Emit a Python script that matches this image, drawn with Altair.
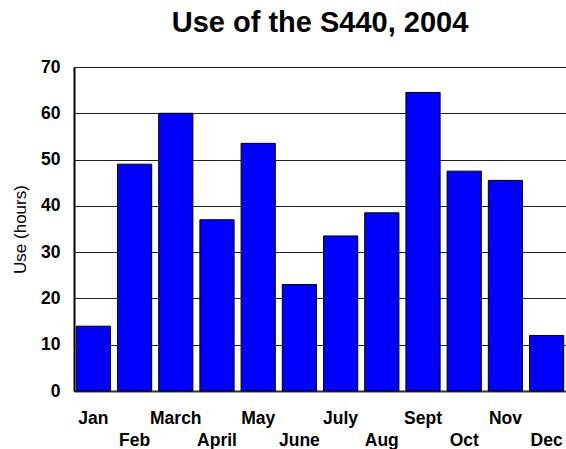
import altair as alt
import pandas as pd

# Monthly usage of the S440 during 2004
months = ["Jan", "Feb", "March", "April", "May", "June",
          "July", "Aug", "Sept", "Oct", "Nov", "Dec"]
hours = [14, 49, 60, 37, 53.5, 23, 33.5, 38.5, 64.5, 47.5, 45.5, 12]
y_ticks = [0, 10, 20, 30, 40, 50, 60, 70]

df = pd.DataFrame({"month": months, "hours": hours})

# every second month label drops to a second row
lower_row = "[" + ",".join(f"'{m}'" for m in months[1::2]) + "]"

FONT = "Liberation Sans"

bars = alt.Chart(df).mark_bar(
    color="#0000ff", stroke="#000000", strokeWidth=1
).encode(
    x=alt.X(
        "month:N",
        sort=months,
        title=None,
        scale=alt.Scale(paddingInner=0.17, paddingOuter=0.055),
        axis=alt.Axis(
            labelAngle=0,
            labelFont=FONT,
            labelFontSize=17.5,
            labelFontWeight="bold",
            labelColor="#000000",
            labelBaseline="top",
            labelLineHeight=22,
            labelPadding=18,
            labelExpr=f"indexof({lower_row}, datum.value) >= 0 ? ['', datum.label] : datum.label",
            ticks=False,
            domainColor="#333333",
            domainWidth=2,
            labelOverlap=False,
        ),
    ),
    y=alt.Y(
        "hours:Q",
        title="Use (hours)",
        scale=alt.Scale(domain=[0, 70], nice=False),
        axis=alt.Axis(
            values=y_ticks,
            labelFont=FONT,
            labelFontSize=17.5,
            labelFontWeight="bold",
            labelColor="#000000",
            labelPadding=14,
            ticks=False,
            domainColor="#000000",
            domainWidth=2,
            gridColor="#222222",
            gridWidth=1,
            titleFont=FONT,
            titleFontSize=17,
            titleFontWeight="normal",
            titleColor="#000000",
            titlePadding=11,
        ),
    ),
).properties(
    width=492,
    height=324,
    title=alt.TitleParams(
        "Use of the S440, 2004",
        font=FONT,
        fontSize=29,
        fontWeight="bold",
        color="#000000",
        anchor="middle",
        offset=20,
    ),
    autosize=alt.AutoSizeParams(type="none"),
    padding={"left": 74, "top": 67, "right": 0, "bottom": 58},
).configure_view(stroke=None).configure(background="#ffffff")

chart = bars
chart.save("out.html", embed_options={"renderer": "svg", "actions": False})
